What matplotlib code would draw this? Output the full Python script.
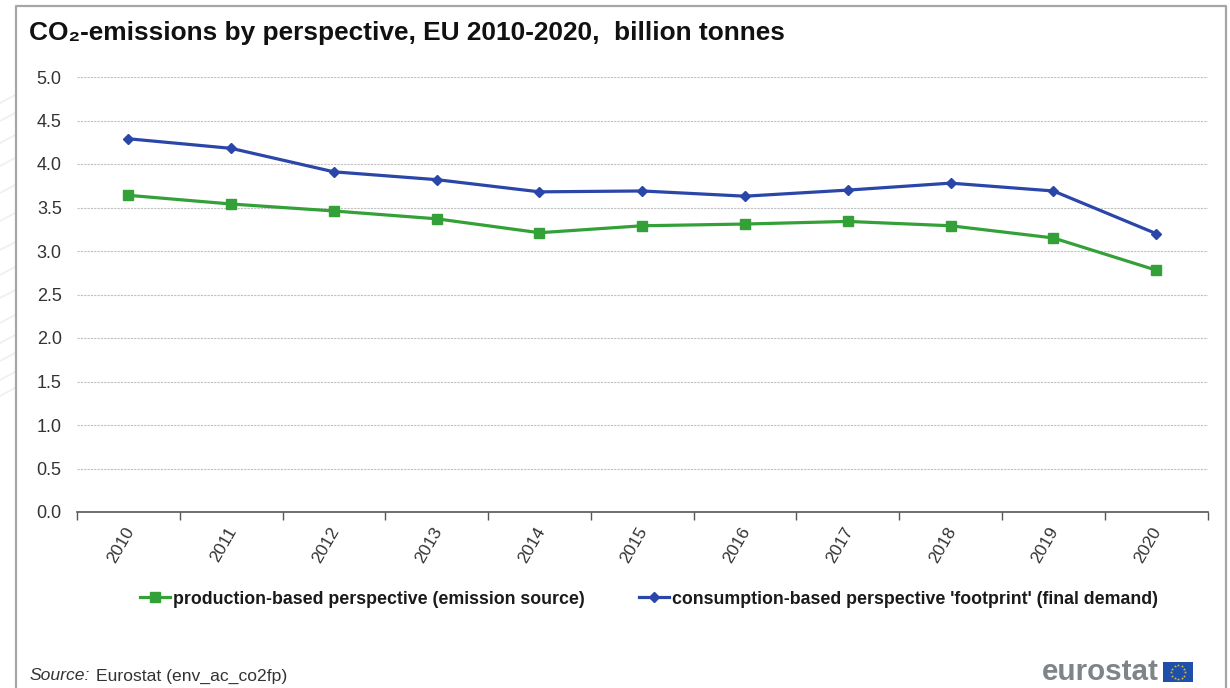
import numpy as np
import matplotlib
matplotlib.use("Agg")
import matplotlib.pyplot as plt
from matplotlib.patches import Rectangle
from matplotlib.transforms import ScaledTranslation

plt.rcParams["font.family"] = ["Liberation Sans", "DejaVu Sans"]

years = ["2010", "2011", "2012", "2013", "2014", "2015", "2016", "2017", "2018", "2019", "2020"]
production = [3.64, 3.54, 3.46, 3.37, 3.21, 3.29, 3.31, 3.34, 3.29, 3.15, 2.78]
consumption = [4.29, 4.18, 3.91, 3.82, 3.68, 3.69, 3.63, 3.70, 3.78, 3.69, 3.20]
y_ticks = [0.0, 0.5, 1.0, 1.5, 2.0, 2.5, 3.0, 3.5, 4.0, 4.5, 5.0]
# faint page decoration left of the card
swoosh_ys = [95, 113, 135, 158, 185, 213, 242, 267, 290, 315, 335, 353, 372, 388]

W, H = 1230, 688
green = "#34a038"
blue = "#2a46a8"

fig = plt.figure(figsize=(W / 100, H / 100), dpi=100, facecolor="white")

# card border, open at the bottom
bg = fig.add_axes([0, 0, 1, 1])
bg.set_xlim(0, W)
bg.set_ylim(H, 0)
bg.axis("off")
for yy in swoosh_ys:
    bg.plot([0, 15], [yy + 8, yy], color="#efefef", lw=1.2)
bg.plot([16, 16, 1226, 1226], [H, 6, 6, H], color="#a6a6a6", lw=1.6)

ax = fig.add_axes([77 / W, 1 - 512 / H, (1207.5 - 77) / W, (512 - 77) / H])
x = np.arange(len(years))
ax.plot(x, production, color=green, lw=2.3, marker="s", ms=7, label="production-based perspective (emission source)")
ax.plot(x, consumption, color=blue, lw=2.3, marker="D", ms=5.5, label="consumption-based perspective 'footprint' (final demand)")

ax.set_xlim(-0.5, len(years) - 0.5)
ax.set_ylim(0, 5)
ax.set_yticks(y_ticks)
ax.set_yticklabels([f"{v:.1f}" for v in y_ticks], fontsize=13, color="#333333")
ax.grid(axis="y", color="#c0c0c0", lw=0.8, ls=(0, (2, 1)))
ax.set_axisbelow(True)
ax.patch.set_alpha(0)
for s in ["top", "right", "left"]:
    ax.spines[s].set_visible(False)
ax.spines["bottom"].set_color("#555555")
ax.spines["bottom"].set_linewidth(1.2)
ax.tick_params(axis="y", length=0, pad=11)

# ticks fall between the years, labels sit on the year centres
ax.set_xticks(np.arange(len(years) + 1) - 0.5)
ax.set_xticklabels([])
ax.tick_params(axis="x", which="major", length=6, width=1, color="#555555", direction="out")
ax.set_xticks(x, minor=True)
ax.set_xticklabels(years, minor=True, rotation=60, ha="center", va="top", fontsize=12.5, color="#333333")
ax.tick_params(axis="x", which="minor", length=0, pad=9)
shift = ScaledTranslation(-8 / 100, 0, fig.dpi_scale_trans)
for lab in ax.get_xticklabels(minor=True):
    lab.set_transform(lab.get_transform() + shift)

leg = fig.legend(loc="center", bbox_to_anchor=(649 / W, 1 - 599 / H), ncol=2, frameon=False,
                 prop={"weight": "bold", "size": 12.8}, handlelength=1.7, handletextpad=0.2,
                 columnspacing=3.0)
for t in leg.get_texts():
    t.set_color("#1a1a1a")

fig.text(29 / W, 1 - 33 / H, "CO₂-emissions by perspective, EU 2010-2020,  billion tonnes",
         fontsize=18.92, fontweight="bold", color="#111111", ha="left", va="center")

fig.text(29 / W, 1 - 676 / H, "Source:", fontsize=12.6, style="italic", color="#333333", ha="left", va="center")
fig.text(96 / W, 1 - 676 / H, "Eurostat (env_ac_co2fp)", fontsize=12.6, color="#333333", ha="left", va="center")

# logo
fig.text(1159 / W, 1 - 672 / H, "eurostat", fontsize=21.3, fontweight="bold", color="#7f8489", ha="right", va="center")
bg.add_patch(Rectangle((1163, 662), 30, 20, color="#1f4fa8", lw=0))
a = np.arange(12) * 2 * np.pi / 12
bg.scatter(1178 + 7 * np.cos(a), 672 + 7 * np.sin(a), s=5, color="#d8c23a", lw=0, marker="*")

fig.savefig("out.png", dpi=100)
